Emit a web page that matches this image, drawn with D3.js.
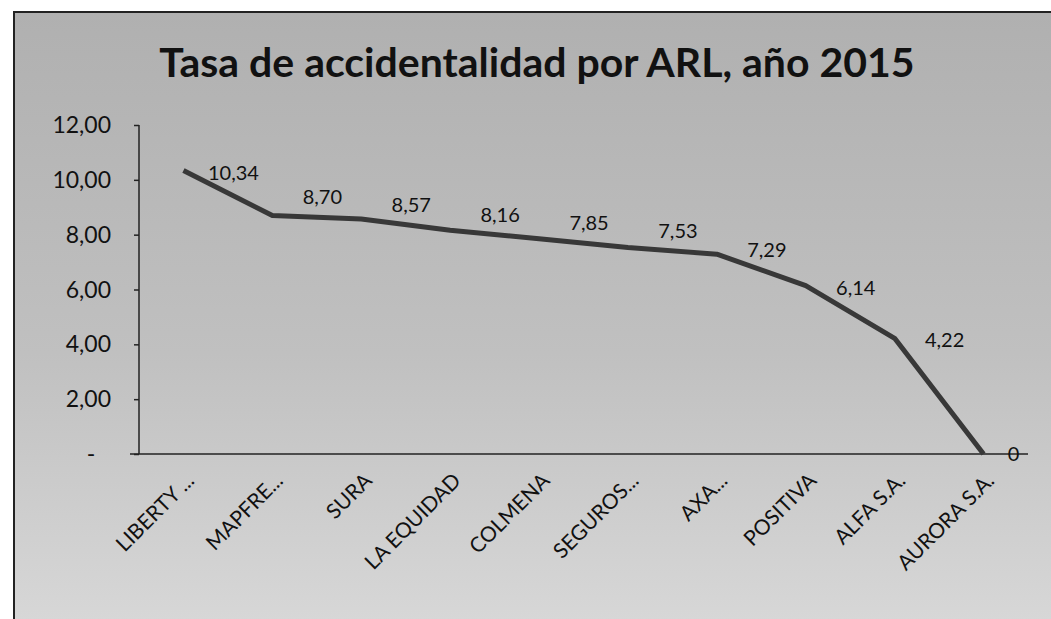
<!DOCTYPE html>
<html>
<head>
<meta charset="utf-8">
<script src="https://cdn.jsdelivr.net/npm/d3@7"></script>
<style>
  body { margin: 0; background: #fff; }
  svg { display: block; font-family: Lato, "Open Sans", sans-serif; }
</style>
</head>
<body>
<svg id="chart" width="1051" height="619"></svg>
<script>
const categories = ["LIBERTY ...", "MAPFRE...", "SURA", "LA EQUIDAD", "COLMENA",
  "SEGUROS...", "AXA...", "POSITIVA", "ALFA S.A.", "AURORA S.A."];
const values = [10.34, 8.70, 8.57, 8.16, 7.85, 7.53, 7.29, 6.14, 4.22, 0];
const yTicks = [0, 2, 4, 6, 8, 10, 12];
const title = "Tasa de accidentalidad por ARL, año 2015";

const svg = d3.select("#chart");
const fmt = v => v.toFixed(2).replace(".", ",");

// background + frame
const defs = svg.append("defs");
const grad = defs.append("linearGradient").attr("id", "bg").attr("x1", 0).attr("y1", 0).attr("x2", 0).attr("y2", 1);
grad.append("stop").attr("offset", "0%").attr("stop-color", "#b0b0b0");
grad.append("stop").attr("offset", "55%").attr("stop-color", "#c0c0c0");
grad.append("stop").attr("offset", "100%").attr("stop-color", "#d8d8d8");

svg.append("rect")
  .attr("x", 14).attr("y", 12)
  .attr("width", 1051).attr("height", 620)
  .attr("fill", "url(#bg)")
  .attr("stroke", "#222").attr("stroke-width", 2);

svg.append("text")
  .attr("x", 537).attr("y", 77)
  .attr("text-anchor", "middle")
  .attr("font-size", 41).attr("font-weight", "bold")
  .attr("fill", "#111")
  .text(title);

const x = d3.scaleBand().domain(categories).range([139, 1028]).padding(0);
const y = d3.scaleLinear().domain([0, 12]).range([454, 125]);
const cx = d => x(d) + x.bandwidth() / 2;

// y axis
const yAxis = svg.append("g")
  .attr("transform", "translate(139,0)")
  .call(d3.axisLeft(y).tickValues(yTicks).tickSize(5).tickFormat(""));
yAxis.select(".domain").attr("stroke", "#222").attr("stroke-width", 1.5).attr("d", "M0,125V454");
yAxis.selectAll(".tick line").attr("stroke", "#222").attr("stroke-width", 1.5);

svg.append("g").selectAll("text")
  .data(yTicks)
  .join("text")
  .attr("x", d => d === 0 ? 91 : 111)
  .attr("y", d => y(d) + 8)
  .attr("text-anchor", d => d === 0 ? "middle" : "end")
  .attr("font-size", 23)
  .attr("fill", "#111")
  .text(d => d === 0 ? "-" : fmt(d));

// x axis
svg.append("line")
  .attr("x1", 130).attr("x2", 1028)
  .attr("y1", y(0)).attr("y2", y(0))
  .attr("stroke", "#222").attr("stroke-width", 1.5);

svg.append("g").selectAll("text")
  .data(categories)
  .join("text")
  .attr("transform", d => `translate(${cx(d) + 12},${y(0) + 28}) rotate(-45)`)
  .attr("text-anchor", "end")
  .attr("font-size", 21)
  .attr("fill", "#111")
  .text(d => d);

// line
const pts = categories.map((c, i) => ({ c, v: values[i] }));
svg.append("path")
  .datum(pts)
  .attr("fill", "none")
  .attr("stroke", "#383838")
  .attr("stroke-width", 5)
  .attr("stroke-linejoin", "round")
  .attr("d", d3.line().x(d => cx(d.c)).y(d => y(d.v)));

// data labels, sitting right of each point
svg.append("g").selectAll("text")
  .data(pts)
  .join("text")
  .attr("x", (d, i) => i === pts.length - 1 ? cx(d.c) + 30 : cx(d.c) + 50)
  .attr("y", (d, i) => {
    if (i === pts.length - 1) return y(d.v) + 7;
    const y0 = y(d.v), y1 = y(pts[i + 1].v);
    return Math.min((y0 + y1) / 2 - 20, y0 + 2) + 7;
  })
  .attr("text-anchor", "middle")
  .attr("font-size", 20)
  .attr("fill", "#111")
  .text(d => d.v === 0 ? "0" : fmt(d.v));
</script>
</body>
</html>
